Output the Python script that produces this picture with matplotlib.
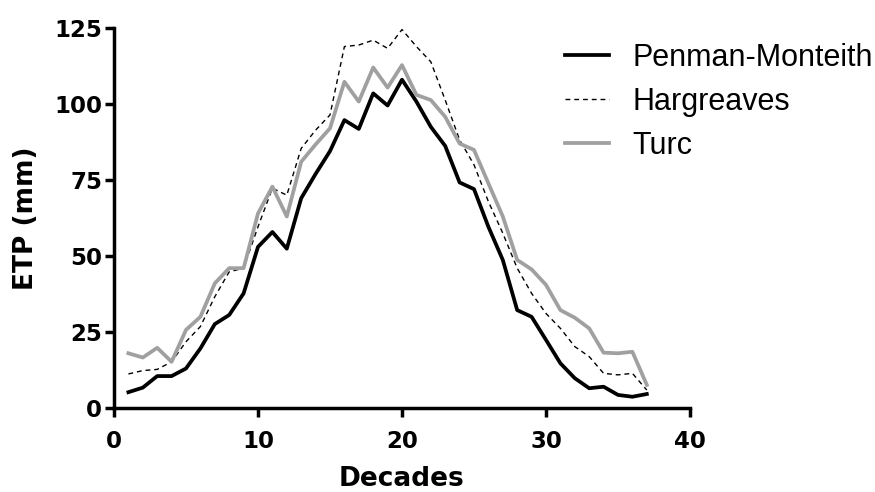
import matplotlib
matplotlib.use("Agg")
import matplotlib.pyplot as plt

decades = list(range(1, 38))
penman = [5.2, 6.7, 10.5, 10.5, 13.0, 19.6, 27.6, 30.6, 37.7, 53.0,
          57.9, 52.4, 69.0, 77.0, 84.5, 94.7, 91.8, 103.5, 99.5, 108.0,
          100.8, 92.5, 86.2, 74.2, 72.0, 59.6, 48.7, 32.2, 30.0, 22.4,
          14.7, 9.8, 6.5, 7.0, 4.3, 3.7, 4.6]
hargreaves = [11.2, 12.3, 12.7, 15.2, 21.8, 26.8, 36.6, 44.8, 46.0, 59.6,
              72.3, 70.0, 85.4, 91.4, 96.4, 118.9, 119.4, 121.0, 118.3, 124.5,
              118.9, 113.9, 101.3, 88.2, 80.0, 67.9, 57.5, 46.0, 37.7, 31.1,
              26.2, 20.2, 16.9, 11.4, 10.9, 11.4, 5.9]
turc = [18.0, 16.6, 19.8, 15.2, 25.7, 30.0, 41.0, 46.0, 46.0, 64.0,
        72.8, 63.0, 81.0, 86.7, 92.0, 107.3, 100.8, 112.0, 105.4, 112.8,
        103.0, 101.3, 95.8, 87.0, 84.9, 73.9, 63.0, 48.7, 45.6, 40.5,
        32.2, 29.7, 26.2, 18.2, 18.0, 18.5, 7.6]

x_ticks = [0, 10, 20, 30, 40]
y_ticks = [0, 25, 50, 75, 100, 125]

plt.rcParams['font.family'] = ['DejaVu Sans']

fig = plt.figure(figsize=(8.75, 4.92), dpi=100)
ax = fig.add_axes([114/875, 1-408/492, (690-114)/875, (408-28)/492])

ax.plot(decades, penman, color='black', lw=2.7, label='Penman-Monteith',
        clip_on=False)
ax.plot(decades, hargreaves, color='black', lw=1.0, ls=(0, (3.5, 2.8)),
        label='Hargreaves', clip_on=False)
ax.plot(decades, turc, color='#a0a0a0', lw=2.7, label='Turc',
        clip_on=False)

ax.set_xlim(0, 40)
ax.set_ylim(0, 125)
ax.set_xticks(x_ticks)
ax.set_yticks(y_ticks)
for s in ['top', 'right']:
    ax.spines[s].set_visible(False)
for s in ['left', 'bottom']:
    ax.spines[s].set_linewidth(2.5)
    ax.spines[s].set_capstyle('projecting')
ax.tick_params(width=2.5, length=6.5, direction='out', labelsize=16.5)
ax.tick_params(axis='x', pad=9)
ax.tick_params(axis='y', pad=2)
for lab in ax.get_xticklabels() + ax.get_yticklabels():
    lab.set_fontweight('bold')

ax.set_xlabel('Decades', fontsize=19, fontweight='bold', labelpad=10)
ax.set_ylabel('ETP (mm)', fontsize=19, fontweight='bold', labelpad=11)

fig.legend(loc='upper left', bbox_to_anchor=(565/875, 1-43/492),
           frameon=False, handlelength=1.44, handletextpad=0.78,
           labelspacing=0.45, borderpad=0, borderaxespad=0,
           prop={'family': 'Liberation Sans', 'size': 22})

fig.savefig('out.png', dpi=100)
